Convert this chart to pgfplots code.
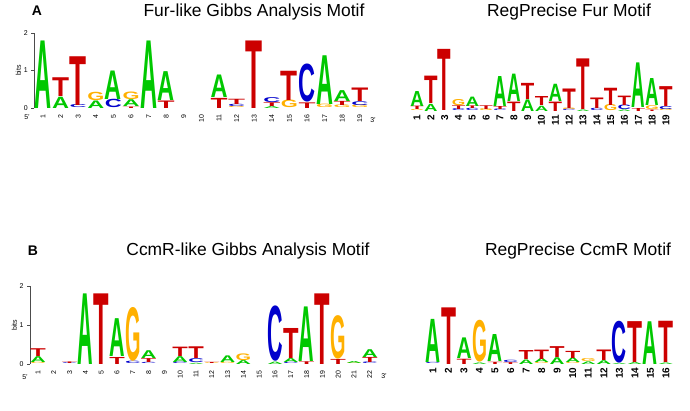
\documentclass[border=0pt]{standalone}
\usepackage{pgfplots}
\pgfplotsset{compat=1.18}
\usepackage{fontspec}
\setmainfont{Liberation Sans}
\definecolor{cA}{RGB}{0,200,0}
\definecolor{cC}{RGB}{0,0,204}
\definecolor{cG}{RGB}{255,176,0}
\definecolor{cT}{RGB}{204,0,0}
\newcommand{\LA}{\textcolor{cA}{\bfseries A}}
\newcommand{\LC}{\textcolor{cC}{\bfseries C}}
\newcommand{\LG}{\textcolor{cG}{\bfseries G}}
\newcommand{\LT}{\textcolor{cT}{\bfseries T}}
\newdimen\bitA \bitA=37.5bp
\newdimen\bitB \bitB=39bp
\pgfplotsset{
  logo/.style 2 args={only marks, mark=none, point meta=explicit symbolic,
    visualization depends on={value \thisrow{h}\as\hh},
    nodes near coords={\resizebox{#1}{\hh#2}{\csname L\pgfplotspointmeta\endcsname}},
    every node near coord/.append style={anchor=south, inner sep=0pt, outer sep=0pt}},
  leftpanel/.style={scale only axis, clip=false, anchor=south west,
    axis x line*=bottom, axis y line*=left,
    x axis line style={draw=none}, y axis line style={draw=black!70, line width=0.6pt},
    xtick style={draw=none}, ytick style={draw=black!70, line width=0.6pt},
    tick align=outside, major tick length=3bp,
    ymin=0, ymax=2, ytick={0,1,2},
    /pgf/number format/assume math mode=true,
    ticklabel style={font=\fontsize{7}{7}\selectfont},
    xticklabel style={rotate=90, anchor=east},
    ylabel={bits}, ylabel style={font=\fontsize{7}{7}\selectfont, yshift=-4bp}},
  rightpanel/.style={scale only axis, clip=false, anchor=south west,
    axis line style={draw=none}, tick style={draw=none},
    ymin=0, ymax=2, ytick=\empty,
    /pgf/number format/assume math mode=true,
    xticklabel style={rotate=90, anchor=east, font=\fontsize{10}{10}\selectfont\bfseries}},
}
\begin{document}
\begin{tikzpicture}
\path[use as bounding box] (0,0) rectangle (690bp,-411bp);
% titles
\node[font=\fontsize{14}{14}\selectfont\bfseries] at (37bp,-11bp) {A};
\node[font=\fontsize{14}{14}\selectfont\bfseries] at (33bp,-251bp) {B};
\node[font=\fontsize{17.5}{17.5}\selectfont] at (254bp,-12bp) {Fur-like Gibbs Analysis Motif};
\node[font=\fontsize{17.5}{17.5}\selectfont] at (569bp,-12bp) {RegPrecise Fur Motif};
\node[font=\fontsize{17.5}{17.5}\selectfont] at (248bp,-251bp) {CcmR-like Gibbs Analysis Motif};
\node[font=\fontsize{17.5}{17.5}\selectfont] at (578bp,-251bp) {RegPrecise CcmR Motif};
\node[font=\fontsize{7}{7}\selectfont] at (27bp,-117bp) {5'};
\node[font=\fontsize{7}{7}\selectfont] at (373bp,-120bp) {3'};
\node[font=\fontsize{7}{7}\selectfont] at (25bp,-377bp) {5'};
\node[font=\fontsize{7}{7}\selectfont] at (384bp,-376bp) {3'};

% Panel A left
\begin{axis}[leftpanel, at={(34.2bp,-108bp)}, width=334.4bp, height=75bp,
  xmin=0.5, xmax=19.5, xtick={1,...,19}]
\addplot[logo={17bp}{\bitA}] table[x=x, y=y, meta=L] {
x y h L
1 0 1.8 A
2 0 0.3 A
2 0.3 0.5 T
3 0 0.08 C
3 0.08 1.3 T
4 0 0.2 A
4 0.2 0.22 G
5 0 0.22 C
5 0.22 0.76 A
6 0 0.04 T
6 0.04 0.18 A
6 0.22 0.2 G
7 0 1.8 A
8 0 0.2 T
8 0.2 0.77 A
11 0 0.27 T
11 0.27 0.6 A
12 0 0.03 G
12 0.03 0.06 C
12 0.09 0.14 T
13 0 1.8 T
14 0 0.05 A
14 0.05 0.1 T
14 0.15 0.13 C
15 0 0.2 G
15 0.2 0.78 T
16 0 0.15 T
16 0.15 1.0 C
17 0 0.09 G
17 0.09 1.3 A
18 0 0.07 G
18 0.07 0.11 T
18 0.18 0.29 A
19 0 0.07 G
19 0.07 0.1 C
19 0.17 0.36 T
};
\end{axis}

% Panel A right
\begin{axis}[rightpanel, at={(410.1bp,-111bp)}, width=262.8bp, height=75bp,
  xmin=0.5, xmax=19.5, xtick={1,...,19}]
\addplot[logo={13.5bp}{\bitA}] table[x=x, y=y, meta=L] {
x y h L
1 0 0.03 G
1 0.03 0.09 T
1 0.12 0.4 A
2 0 0.19 A
2 0.19 0.73 T
3 0 1.63 T
4 0 0.05 C
4 0.05 0.1 T
4 0.15 0.16 G
5 0 0.06 C
5 0.06 0.07 T
5 0.13 0.25 A
6 0 0.05 G
6 0.05 0.1 T
7 0 0.04 C
7 0.04 0.08 T
7 0.12 0.8 A
8 0 0.25 T
8 0.25 0.73 A
9 0 0.31 A
9 0.31 0.43 T
10 0 0.14 A
10 0.14 0.24 T
11 0 0.25 T
11 0.25 0.46 A
12 0 0.04 C
12 0.04 0.04 G
12 0.08 0.52 T
13 0 0.04 A
13 0.04 1.35 T
14 0 0.06 C
14 0.06 0.28 T
15 0 0.16 G
15 0.16 0.46 T
16 0 0.04 A
16 0.04 0.12 C
16 0.16 0.25 T
17 0 0.08 T
17 0.08 1.19 A
18 0 0.04 T
18 0.04 0.1 G
18 0.14 0.72 A
19 0 0.04 G
19 0.04 0.08 C
19 0.12 0.53 T
};
\end{axis}

% Panel B left
\begin{axis}[leftpanel, at={(30.1bp,-364bp)}, width=347.6bp, height=78bp,
  xmin=0.5, xmax=22.5, xtick={1,...,22}]
\addplot[logo={15.5bp}{\bitB}] table[x=x, y=y, meta=L] {
x y h L
1 0 0.03 G
1 0.03 0.15 A
1 0.18 0.2 T
3 0 0.02 C
3 0.02 0.04 T
4 0 1.81 A
5 0 1.81 T
6 0 0.18 T
6 0.18 0.97 A
7 0 0.06 C
7 0.06 1.36 G
8 0 0.03 C
8 0.03 0.1 T
8 0.13 0.2 A
10 0 0.04 C
10 0.04 0.15 A
10 0.19 0.24 T
11 0 0.03 A
11 0.03 0.1 C
11 0.13 0.3 T
12 0 0.02 G
12 0.02 0.03 T
13 0 0.03 G
13 0.03 0.17 A
14 0 0.1 A
14 0.1 0.17 G
16 0 0.06 A
16 0.06 1.4 C
17 0 0.03 C
17 0.03 0.1 A
17 0.13 0.77 T
18 0 0.07 T
18 0.07 1.4 A
19 0 1.81 T
20 0 0.13 T
20 0.13 1.1 G
21 0 0.02 G
21 0.02 0.05 A
22 0 0.04 C
22 0.04 0.13 T
22 0.17 0.2 A
};
\end{axis}

% Panel B right
\begin{axis}[rightpanel, at={(425.2bp,-364bp)}, width=248.5bp, height=75bp,
  xmin=0.5, xmax=16.5, xtick={1,...,16}]
\addplot[logo={15bp}{\bitA}] table[x=x, y=y, meta=L] {
x y h L
1 0 0.03 C
1 0.03 1.15 A
2 0 1.51 T
3 0 0.14 T
3 0.14 0.55 A
4 0 0.04 A
4 0.04 1.1 G
5 0 0.06 T
5 0.06 0.72 A
6 0 0.05 T
6 0.05 0.06 C
7 0 0.12 A
7 0.12 0.24 T
8 0 0.03 G
8 0.03 0.1 A
8 0.13 0.25 T
9 0 0.18 A
9 0.18 0.29 T
10 0 0.03 G
10 0.03 0.12 A
10 0.15 0.19 T
11 0 0.07 A
11 0.07 0.08 G
12 0 0.1 A
12 0.1 0.28 T
13 0 0.03 A
13 0.03 1.1 C
14 0 0.05 A
14 0.05 1.09 T
15 0 1.14 A
16 0 0.04 A
16 0.04 1.1 T
};
\end{axis}
\end{tikzpicture}
\end{document}
